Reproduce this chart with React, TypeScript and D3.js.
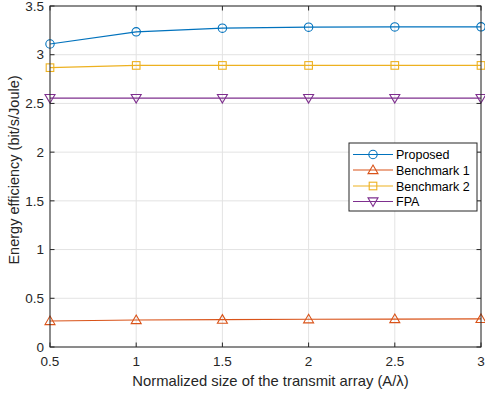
import React from "react";
import * as d3 from "d3";

const xValues = [0.5, 1, 1.5, 2, 2.5, 3];
const proposed = [3.11, 3.235, 3.272, 3.283, 3.285, 3.286];
const benchmark1 = [0.267, 0.277, 0.281, 0.285, 0.287, 0.288];
const benchmark2 = [2.867, 2.89, 2.89, 2.89, 2.89, 2.89];
const fpa = [2.555, 2.555, 2.555, 2.555, 2.555, 2.555];
const xTicks = [0.5, 1, 1.5, 2, 2.5, 3];
const yTicks = [0, 0.5, 1, 1.5, 2, 2.5, 3, 3.5];
const seriesNames = ["Proposed", "Benchmark 1", "Benchmark 2", "FPA"];

const colors = ["#0072BD", "#D95319", "#EDB120", "#7E2F8E"];
const markers = ["circle", "triangle", "square", "triangleDown"];

const W = 485, H = 393;
const L = 50, R = 481, T = 6, B = 347;
const font = "'Liberation Sans', Arial, Helvetica, sans-serif";

function Marker({ type, x, y, color }: { type: string; x: number; y: number; color: string }) {
  if (type === "circle") return <circle cx={x} cy={y} r={4.2} fill="none" stroke={color} strokeWidth={1.1} />;
  if (type === "square") return <rect x={x - 3.8} y={y - 3.8} width={7.6} height={7.6} fill="none" stroke={color} strokeWidth={1.1} />;
  if (type === "triangle") {
    const p = `${x},${y - 5} ${x + 5},${y + 3.6} ${x - 5},${y + 3.6}`;
    return <polygon points={p} fill="none" stroke={color} strokeWidth={1.1} />;
  }
  const p = `${x},${y + 5} ${x + 5},${y - 3.6} ${x - 5},${y - 3.6}`;
  return <polygon points={p} fill="none" stroke={color} strokeWidth={1.1} />;
}

export default function App() {
  const x = d3.scaleLinear().domain([0.5, 3]).range([L, R]);
  const y = d3.scaleLinear().domain([0, 3.5]).range([B, T]);
  const series = [proposed, benchmark1, benchmark2, fpa];
  const line = d3.line<number>().x((_, i) => x(xValues[i])).y((d) => y(d));
  const axisColor = "#262626";
  const tickLen = 4.5;

  const legX = 349, legY = 143, legW = 128, legH = 68;
  const rowY = [154.5, 170, 186, 201.5];

  return (
    <svg width={W} height={H} style={{ position: "absolute", left: 0, top: 0 }} fontFamily={font}>
      <rect x={0} y={0} width={W} height={H} fill="#fff" />
      {xTicks.map((t) => (
        <line key={"gx" + t} x1={x(t)} x2={x(t)} y1={T} y2={B} stroke="#e3e3e3" strokeWidth={1} />
      ))}
      {yTicks.map((t) => (
        <line key={"gy" + t} x1={L} x2={R} y1={y(t)} y2={y(t)} stroke="#e3e3e3" strokeWidth={1} />
      ))}
      {series.map((s, k) => (
        <g key={"s" + k}>
          <path d={line(s) || ""} fill="none" stroke={colors[k]} strokeWidth={1.2} />
          {s.map((v, i) => (
            <Marker key={i} type={markers[k]} x={x(xValues[i])} y={y(v)} color={colors[k]} />
          ))}
        </g>
      ))}
      <rect x={L} y={T} width={R - L} height={B - T} fill="none" stroke={axisColor} strokeWidth={1} />
      {xTicks.map((t) => (
        <g key={"tx" + t}>
          <line x1={x(t)} x2={x(t)} y1={B} y2={B - tickLen} stroke={axisColor} />
          <line x1={x(t)} x2={x(t)} y1={T} y2={T + tickLen} stroke={axisColor} />
          <text x={x(t)} y={B + 19} textAnchor="middle" fontSize={13.5} fill={axisColor}>{String(t)}</text>
        </g>
      ))}
      {yTicks.map((t) => (
        <g key={"ty" + t}>
          <line x1={L} x2={L + tickLen} y1={y(t)} y2={y(t)} stroke={axisColor} />
          <line x1={R} x2={R - tickLen} y1={y(t)} y2={y(t)} stroke={axisColor} />
          <text x={L - 6} y={y(t) + 4.7} textAnchor="end" fontSize={13.5} fill={axisColor}>{String(t)}</text>
        </g>
      ))}
      <text x={(L + R) / 2 + 5} y={386} textAnchor="middle" fontSize={14.8} fill={axisColor}>
        Normalized size of the transmit array (A/λ)
      </text>
      <text transform={`translate(18.5,${170}) rotate(-90)`} textAnchor="middle" fontSize={14.5} fill={axisColor}>
        Energy efficiency (bit/s/Joule)
      </text>
      <rect x={legX} y={legY} width={legW} height={legH} fill="#fff" stroke={axisColor} strokeWidth={1} />
      {seriesNames.map((n, k) => (
        <g key={"l" + k}>
          <line x1={353} x2={393} y1={rowY[k]} y2={rowY[k]} stroke={colors[k]} strokeWidth={1.2} />
          <Marker type={markers[k]} x={373} y={rowY[k]} color={colors[k]} />
          <text x={396} y={rowY[k] + 4.5} fontSize={12.5} fill="#000">{n}</text>
        </g>
      ))}
    </svg>
  );
}
